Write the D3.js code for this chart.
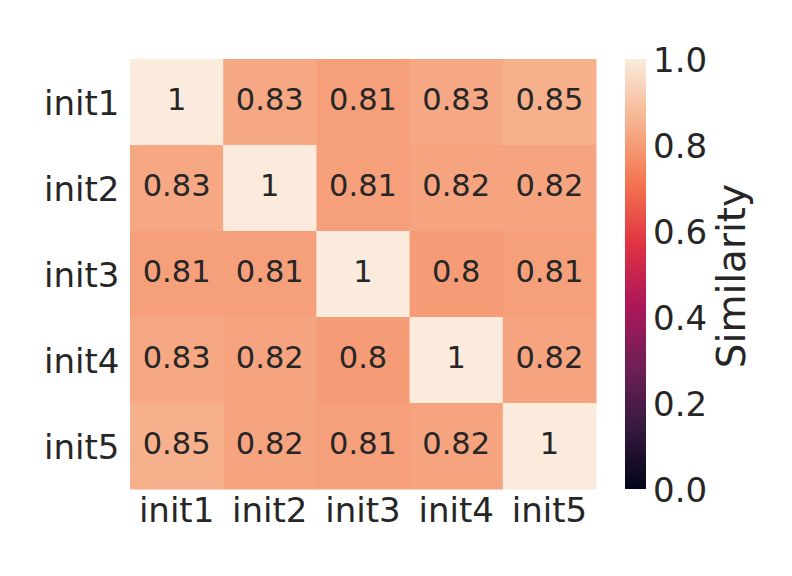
<!DOCTYPE html>
<html><head><meta charset="utf-8">
<script src="https://cdn.jsdelivr.net/npm/d3@7"></script>
<style>body{margin:0;background:#fff}text{font-family:"DejaVu Sans",sans-serif;fill:#262626}</style>
</head><body><svg id="c" width="792" height="576"></svg>
<script>
const rowLabels = ["init1","init2","init3","init4","init5"];
const colLabels = ["init1","init2","init3","init4","init5"];
const values = [
  [1, 0.83, 0.81, 0.83, 0.85],
  [0.83, 1, 0.81, 0.82, 0.82],
  [0.81, 0.81, 1, 0.8, 0.81],
  [0.83, 0.82, 0.8, 1, 0.82],
  [0.85, 0.82, 0.81, 0.82, 1]
];
const cbarTicks = [0.0, 0.2, 0.4, 0.6, 0.8, 1.0];
const cbarLabel = "Similarity";
// rocket colormap stops
const rocketStops = ["#03051a","#35193e","#701f57","#ad1759","#e13342","#f37651","#f6b48f","#faebdd"];

const svg = d3.select("#c");
const L = 130, R = 596, T = 59, B = 489;
const x = d3.scaleBand().domain(colLabels).range([L, R]).padding(0);
const y = d3.scaleBand().domain(rowLabels).range([T, B]).padding(0);
const interp = d3.piecewise(d3.interpolateRgb, rocketStops);
const color = d3.scaleSequential(interp).domain([0, 1]);

const cells = [];
values.forEach((row, i) => row.forEach((v, j) => cells.push({r: rowLabels[i], c: colLabels[j], v})));

svg.append("g").selectAll("rect").data(cells).join("rect")
  .attr("x", d => x(d.c)).attr("y", d => y(d.r))
  .attr("width", x.bandwidth() + 0.5).attr("height", y.bandwidth() + 0.5)
  .attr("fill", d => color(d.v));

svg.append("g").selectAll("text").data(cells).join("text")
  .attr("x", d => x(d.c) + x.bandwidth() / 2)
  .attr("y", d => y(d.r) + y.bandwidth() / 2)
  .attr("dy", "0.27em")
  .attr("text-anchor", "middle")
  .style("font-size", "30.5px")
  .text(d => d3.format("")(d.v));

// axes
const xAxis = svg.append("g").attr("transform", `translate(0,${B})`)
  .call(d3.axisBottom(x).tickSize(0).tickPadding(8));
xAxis.select(".domain").remove();
xAxis.selectAll("text").style("font-size", "34px").attr("fill", "#262626").attr("dy", "0.78em").attr("y", 6);

const yAxis = svg.append("g").attr("transform", `translate(${L},0)`)
  .call(d3.axisLeft(y).tickSize(0).tickPadding(10.5));
yAxis.select(".domain").remove();
yAxis.selectAll("text").style("font-size", "34px").attr("fill", "#262626").attr("dy", "0.38em");

// colorbar
const cbX = 625, cbW = 21;
const cy = d3.scaleLinear().domain([0, 1]).range([B, T]);
const defs = svg.append("defs");
const grad = defs.append("linearGradient").attr("id", "g").attr("x1", 0).attr("y1", 1).attr("x2", 0).attr("y2", 0);
d3.range(0, 1.0001, 0.02).forEach(t => grad.append("stop").attr("offset", t).attr("stop-color", color(t)));
svg.append("rect").attr("x", cbX).attr("y", T).attr("width", cbW).attr("height", B - T).attr("fill", "url(#g)");

const cAxis = svg.append("g").attr("transform", `translate(${cbX + cbW},0)`)
  .call(d3.axisRight(cy).tickValues(cbarTicks).tickFormat(d3.format(".1f")).tickSize(0).tickPadding(7));
cAxis.select(".domain").remove();
cAxis.selectAll("text").style("font-size", "34px").attr("fill", "#262626").attr("dy", "0.38em");

svg.append("text")
  .attr("transform", `translate(745,${(T + B) / 2 + 2}) rotate(-90)`)
  .attr("text-anchor", "middle")
  .style("font-size", "39px")
  .text(cbarLabel);
</script></body></html>
